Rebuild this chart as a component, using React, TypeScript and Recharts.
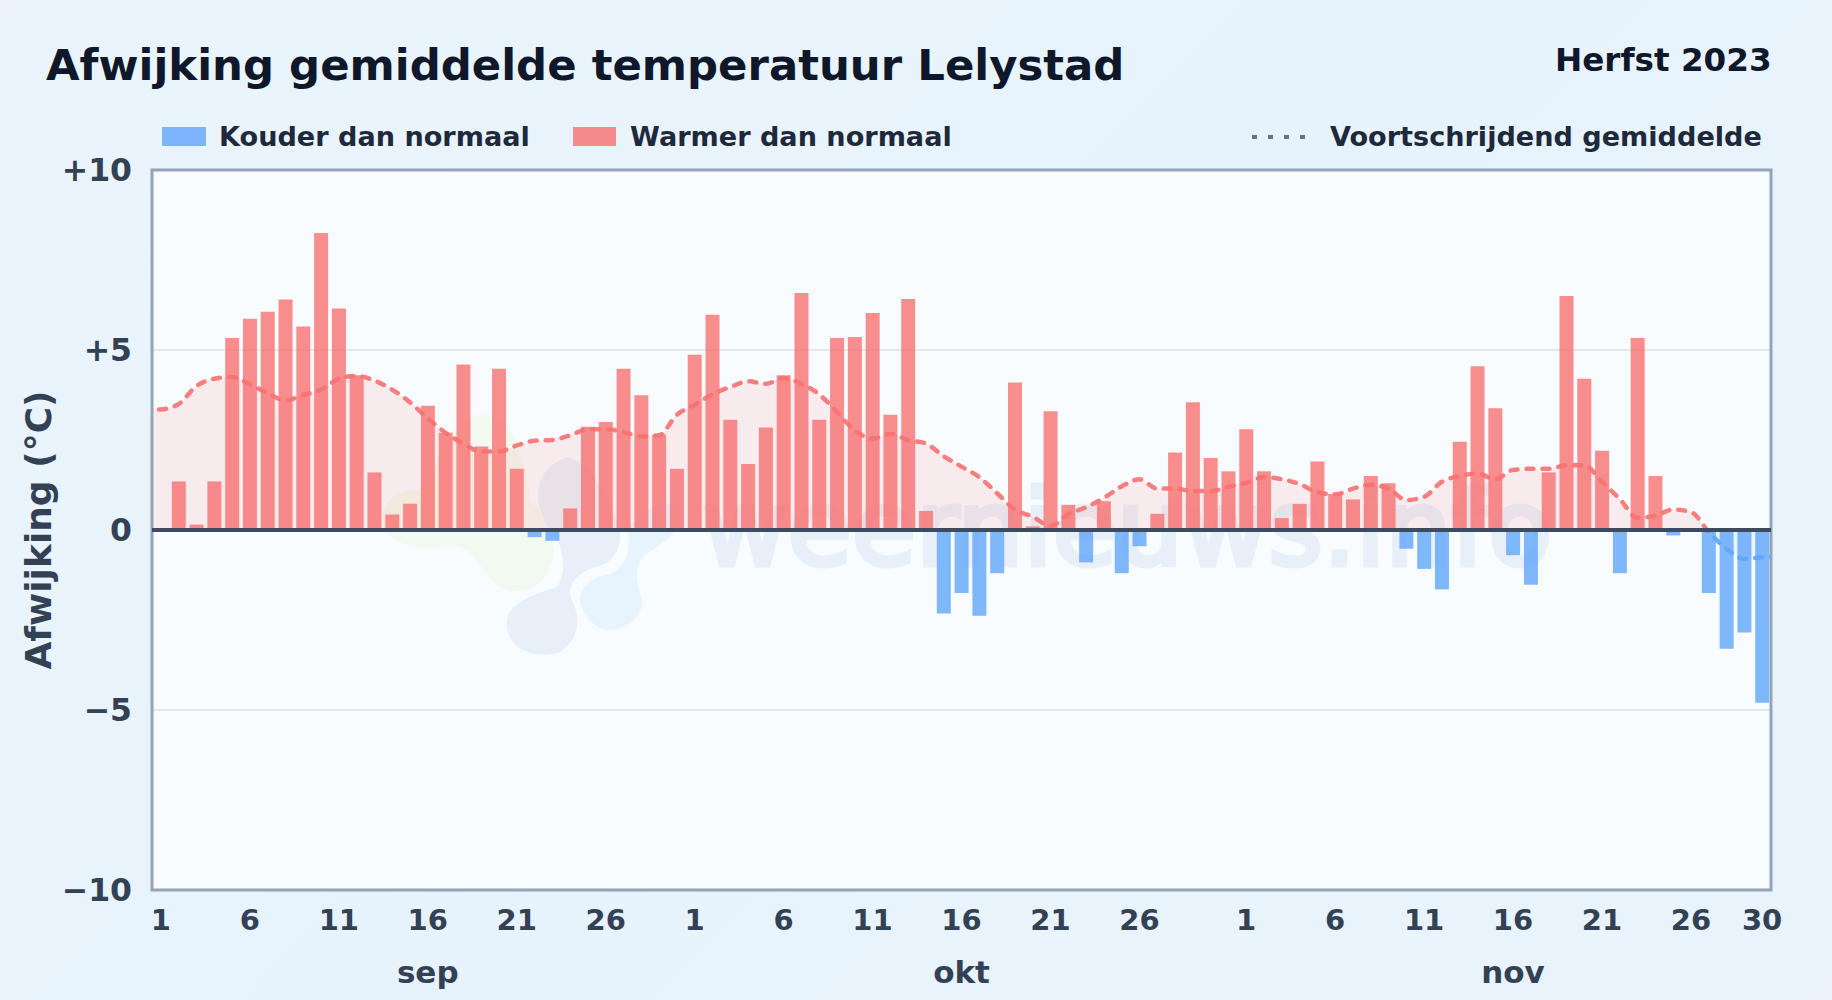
import React from "react";
import { ComposedChart, Bar, Line, Area, XAxis, YAxis, CartesianGrid, ReferenceLine, ReferenceArea } from "recharts";

const deviation = [
  0, 1.35, 0.15, 1.35, 5.33, 5.87, 6.06, 6.4, 5.65, 8.25, 6.15, 4.3, 1.6, 0.43, 0.73, 3.45, 2.7, 4.6, 2.32, 4.48, 1.7, -0.2, -0.3, 0.6, 2.87, 3.0, 4.48, 3.74, 2.65, 1.7,
  4.87, 5.98, 3.06, 1.83, 2.85, 4.3, 6.58, 3.06, 5.33, 5.36, 6.03, 3.2, 6.42, 0.53, -2.32, -1.75, -2.38, -1.2, 4.1, 0.1, 3.3, 0.7, -0.9, 0.8, -1.2, -0.45, 0.45, 2.15, 3.55, 2.0, 1.63,
  2.8, 1.63, 0.33, 0.72, 1.9, 1.0, 0.85, 1.5, 1.3, -0.52, -1.08, -1.65, 2.45, 4.55, 3.38, -0.7, -1.52, 1.6, 6.5, 4.2, 2.2, -1.2, 5.33, 1.5, -0.15, 0, -1.75, -3.3, -2.85, -4.8,
];
const movingAverage = [
  3.35, 3.5, 4.0, 4.2, 4.25, 4.05, 3.8, 3.6, 3.75, 3.9, 4.2, 4.28, 4.15, 3.9, 3.55, 3.1, 2.7, 2.4, 2.18, 2.18, 2.35, 2.48, 2.5, 2.63, 2.8, 2.8, 2.72, 2.6, 2.63, 3.2,
  3.48, 3.77, 3.97, 4.13, 4.06, 4.22, 4.06, 3.77, 3.28, 2.77, 2.54, 2.67, 2.5, 2.4, 2.05, 1.76, 1.47, 1.02, 0.57, 0.37, 0.11, 0.44, 0.63, 0.89, 1.21, 1.41, 1.15, 1.15, 1.08, 1.08, 1.2,
  1.31, 1.47, 1.41, 1.28, 1.05, 0.99, 1.15, 1.25, 1.15, 0.83, 0.92, 1.34, 1.5, 1.57, 1.41, 1.67, 1.7, 1.7, 1.8, 1.8, 1.34, 0.86, 0.34, 0.4, 0.57, 0.5, -0.05, -0.53, -0.8, -0.76,
];
const avgBefore = 3.33;
const avgAfter = -0.74;
const tickPositions = [1, 6, 11, 16, 21, 26, 31, 36, 41, 46, 51, 56, 62, 67, 72, 77, 82, 87, 91];
const tickLabels = ["1", "6", "11", "16", "21", "26", "1", "6", "11", "16", "21", "26", "1", "6", "11", "16", "21", "26", "30"];
const monthPositions = [16, 46, 77];
const monthLabels = ["sep", "okt", "nov"];
const yTicks = [-10, -5, 0, 5, 10];
const yTickLabels = ["\u221210", "\u22125", "0", "+5", "+10"];
const gridLines = [-5, 5];
const title = "Afwijking gemiddelde temperatuur Lelystad";
const period = "Herfst 2023";
const coldName = "Kouder dan normaal";
const warmName = "Warmer dan normaal";
const avgName = "Voortschrijdend gemiddelde";
const axisTitle = "Afwijking (°C)";
const watermark = "weernieuws.info";

const rows: any[] = [
  { x: 0, avg: avgBefore },
  ...deviation.map((v, i) => ({
    x: i + 1,
    cold: v < 0 ? v : null,
    warm: v > 0 ? v : null,
    avg: movingAverage[i],
  })),
  { x: 92, avg: avgAfter },
];

const maxAvg = Math.max(...movingAverage);
const minAvg = Math.min(...movingAverage);
const zeroOffset = maxAvg / (maxAvg - minAvg);

const FONT = "'DejaVu Sans', sans-serif";
const RED = "#f87171";
const BLUE = "#60a5fa";

function XTick({ x, y, payload }: any) {
  const idx = tickPositions.indexOf(payload.value);
  const m = monthPositions.indexOf(payload.value);
  return (
    <g>
      <text x={x} y={y} dy={32} textAnchor="middle" fontFamily={FONT} fontWeight={700} fontSize={29} fill="#334155">
        {tickLabels[idx]}
      </text>
      {m >= 0 && (
        <text x={x} y={y} dy={85} textAnchor="middle" fontFamily={FONT} fontWeight={700} fontSize={31} fill="#334155">
          {monthLabels[m]}
        </text>
      )}
    </g>
  );
}

function YTick({ x, y, payload }: any) {
  const idx = yTicks.indexOf(payload.value);
  return (
    <text x={x} y={y} dx={-12} dy={11} textAnchor="end" fontFamily={FONT} fontWeight={700} fontSize={31.5} fill="#334155">
      {yTickLabels[idx]}
    </text>
  );
}

const abs = (left: number, top: number, extra: any = {}) => ({ position: "absolute" as const, left, top, whiteSpace: "nowrap" as const, fontFamily: FONT, ...extra });
const legendText = { fontSize: 27.1, fontWeight: 700, color: "#1e293b", lineHeight: "30px" };

export default function App() {
  return (
    <div style={{ position: "absolute", left: 0, top: 0, width: 1832, height: 1000, overflow: "hidden", background: "linear-gradient(135deg,#ebf4fd,#e7f3fc 50%,#eaf3fc)" }}>
      <div style={{ position: "absolute", left: 152, top: 170, width: 1619, height: 720, background: "#f8fcff" }} />
      <svg width={1832} height={1000} style={{ position: "absolute", left: 0, top: 0 }}>
        <path d="M383 515 C385 495 405 488 425 490 C440 470 440 420 479 415 C515 412 525 460 530 500 C550 520 560 550 548 572 C535 595 505 598 490 578 C475 560 470 545 450 545 C430 550 380 550 383 515 Z" fill="#f2f9f0" />
        <path d="M507 627 C505 610 515 600 557 587 C565 575 565 560 558 540 C530 510 530 470 567 457 C590 460 610 500 620 530 C622 550 612 562 600 566 C580 570 565 585 572 600 C582 620 578 640 560 652 C535 660 510 650 507 627 Z" fill="#e7f0f8" />
        <path d="M580 600 C582 585 590 578 610 574 C628 565 630 550 628 530 C640 510 665 495 680 510 C685 530 660 545 645 555 C630 570 640 585 642 605 C638 625 615 635 600 628 C590 622 582 615 580 600 Z" fill="#e7f4fe" />
        <text x={702} y={565} fontFamily={FONT} fontWeight={400} fontSize={104.5} stroke="#e7f0f9" strokeWidth={5} fill="#e7f0f9">{watermark}</text>
      </svg>

      <div style={abs(46, 38, { fontSize: 43.4, fontWeight: 700, color: "#0f172a", lineHeight: "54px" })}>{title}</div>
      <div style={abs(1555, 40, { fontSize: 32.6, fontWeight: 700, color: "#0f172a", lineHeight: "40px" })}>{period}</div>

      <div style={abs(162, 127, { width: 44, height: 19, background: BLUE, opacity: 0.8 })} />
      <div style={abs(219, 122, legendText)}>{coldName}</div>
      <div style={abs(573, 127, { width: 43, height: 19, background: RED, opacity: 0.8 })} />
      <div style={abs(630, 122, legendText)}>{warmName}</div>
      <svg width={60} height={10} style={{ position: "absolute", left: 1250, top: 132 }}>
        <line x1={2} x2={58} y1={5} y2={5} stroke="#64748b" strokeWidth={4} strokeDasharray="5 11" />
      </svg>
      <div style={abs(1330, 122, legendText)}>{avgName}</div>

      <div style={{ position: "absolute", left: 0, top: 0 }}>
        <ComposedChart width={1832} height={1000} data={rows} margin={{ top: 170, right: 61, bottom: 0, left: 0 }}>
          <defs>
            <linearGradient id="avgStroke" x1="0" y1="0" x2="0" y2="1">
              <stop offset={zeroOffset} stopColor={RED} />
              <stop offset={zeroOffset} stopColor={BLUE} />
            </linearGradient>
            <linearGradient id="avgFill" x1="0" y1="0" x2="0" y2="1">
              <stop offset={zeroOffset} stopColor={RED} stopOpacity={0.2} />
              <stop offset={zeroOffset} stopColor={BLUE} stopOpacity={0.15} />
            </linearGradient>
          </defs>
          <CartesianGrid horizontal vertical={false} horizontalValues={gridLines} stroke="#e2e8f0" strokeWidth={2} />
          <XAxis dataKey="x" type="number" domain={[0.5, 91.5]} allowDataOverflow ticks={tickPositions} interval={0} axisLine={false} tickLine={false} tick={<XTick />} height={110} />
          <YAxis
            type="number"
            domain={[-10, 10]}
            ticks={yTicks}
            width={152}
            interval={0}
            axisLine={false}
            tickLine={false}
            tick={<YTick />}
          />
          <Area dataKey="avg" type="monotone" stroke="none" fill="url(#avgFill)" isAnimationActive={false} dot={false} activeDot={false} />
          <Bar dataKey="cold" stackId="d" barSize={14} fill={BLUE} fillOpacity={0.8} isAnimationActive={false} />
          <Bar dataKey="warm" stackId="d" barSize={14} fill={RED} fillOpacity={0.8} isAnimationActive={false} />
          <Line dataKey="avg" type="monotone" stroke="url(#avgStroke)" strokeWidth={4.5} strokeDasharray="7 9" strokeLinecap="round" strokeOpacity={0.9} dot={false} activeDot={false} isAnimationActive={false} />
          <ReferenceLine y={0} stroke="#3d4a5f" strokeWidth={4} />
          <ReferenceArea x1={0.5} x2={91.5} y1={-10} y2={10} fill="none" stroke="#94a3b8" strokeWidth={3} />
        </ComposedChart>
      </div>

      <svg width={80} height={400} style={{ position: "absolute", left: 0, top: 330 }}>
        <text transform="translate(51,200) rotate(-90)" textAnchor="middle" fontFamily={FONT} fontWeight={700} fontSize={36} fill="#334155">{axisTitle}</text>
      </svg>
    </div>
  );
}
